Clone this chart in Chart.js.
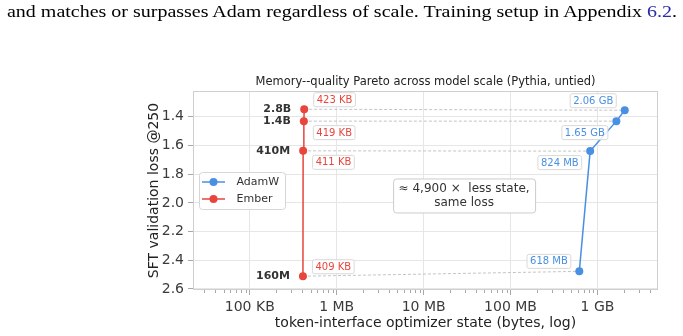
<!DOCTYPE html>
<html lang="en">
<head>
<meta charset="UTF-8">
<title>Memory--quality Pareto</title>
<script src="https://cdn.jsdelivr.net/npm/chart.js"></script>
<style>
  body { margin: 0; background: #fff; }
  .wrap { position: relative; width: 683px; height: 336px; overflow: hidden; }
  canvas { position: absolute; left: 0; top: 0; }
  .caption {
    position: absolute; left: 7px; top: 3.5px;
    font-family: 'Liberation Serif', serif; font-size: 16.5px; line-height: 16.5px;
    white-space: nowrap; color: #000; transform-origin: 0 0;
  }
  .caption span { color: #2a2aa8; }
</style>
</head>
<body>
<div class="wrap">
  <canvas id="chart" width="683" height="336"></canvas>
  <div class="caption" id="caption">and matches or surpasses Adam regardless of scale. Training setup in Appendix <span>6.2</span>.</div>
</div>
<script>
// data, ordered 160M -> 2.8B
const models = ['160M', '410M', '1.4B', '2.8B'];
const emberBytes = [409e3, 411e3, 419e3, 423e3];
const emberLoss = [2.511, 1.637, 1.430, 1.347];
const adamBytes = [618e6, 824e6, 1.65e9, 2.06e9];
const adamLoss = [2.477, 1.639, 1.430, 1.354];
const emberTags = ['409 KB', '411 KB', '419 KB', '423 KB'];
const adamTags = ['618 MB', '824 MB', '1.65 GB', '2.06 GB'];
const xTickValues = [1e5, 1e6, 1e7, 1e8, 1e9];
const xTickText = ['100 KB', '1 MB', '10 MB', '100 MB', '1 GB'];
const yTicks = [1.4, 1.6, 1.8, 2.0, 2.2, 2.4, 2.6];

const BLUE = '#4a90e2';
const RED = '#e8453c';
const FONT = '"DejaVu Sans", sans-serif';
const X_MIN = 22230, X_MAX = 4.97e9;

// tag placement (pixels above/below the point)
const emberTagDy = [-10, 11, 11, -10];
const adamTagDy = [-10.5, 11, 11, -10];

// stretch the caption line to the page width like the scanned text
const cap = document.getElementById('caption');
cap.style.transform = 'scaleX(' + (670 / cap.getBoundingClientRect().width) + ')';

function isDecade(v) {
    const l = Math.log10(v);
    return Math.abs(l - Math.round(l)) < 1e-9;
}

// major decades plus 2..9 minors inside the range
const xTickList = [];
for (let e = 4; e <= 9; e++) {
    for (let k = 1; k <= 9; k++) {
        const v = k * Math.pow(10, e);
        if (v >= X_MIN && v <= X_MAX) xTickList.push(v);
    }
}

function roundRect(ctx, x, y, w, h, r) {
    ctx.beginPath();
    ctx.moveTo(x + r, y);
    ctx.arcTo(x + w, y, x + w, y + h, r);
    ctx.arcTo(x + w, y + h, x, y + h, r);
    ctx.arcTo(x, y + h, x, y, r);
    ctx.arcTo(x, y, x + w, y, r);
    ctx.closePath();
}

function drawTag(ctx, text, x, cy, side, color) {
    ctx.font = '10px ' + FONT;
    const w = ctx.measureText(text).width + 6;
    const h = 14;
    const left = side === 'right' ? x : x - w;
    roundRect(ctx, left + 0.5, cy - h / 2 + 0.5, w, h, 2);
    ctx.fillStyle = 'rgba(255,255,255,0.85)';
    ctx.fill();
    ctx.strokeStyle = '#d9d9d9';
    ctx.lineWidth = 1;
    ctx.stroke();
    ctx.fillStyle = color;
    ctx.textAlign = 'left';
    ctx.textBaseline = 'middle';
    ctx.fillText(text, left + 3.5, cy + 1);
}

const overlay = {
    id: 'overlay',
    afterDraw(chart) {
        const { ctx, chartArea: ca, scales: { x, y } } = chart;
        ctx.save();

        // frame
        ctx.strokeStyle = '#cfcfcf';
        ctx.lineWidth = 1;
        ctx.strokeRect(ca.left + 0.5, ca.top + 0.5, ca.width - 1, ca.height - 1);

        // minor ticks on x
        ctx.strokeStyle = '#a8a8a8';
        xTickList.filter(v => !isDecade(v)).forEach(v => {
            const px = Math.round(x.getPixelForValue(v)) + 0.5;
            ctx.beginPath();
            ctx.moveTo(px, ca.bottom);
            ctx.lineTo(px, ca.bottom + 3);
            ctx.stroke();
        });

        // title
        ctx.fillStyle = '#222';
        ctx.font = '11.5px ' + FONT;
        ctx.textAlign = 'center';
        ctx.textBaseline = 'middle';
        ctx.fillText('Memory--quality Pareto across model scale (Pythia, untied)', (ca.left + ca.right) / 2, ca.top - 9);

        // size tags and model names
        models.forEach((m, i) => {
            const ex = x.getPixelForValue(emberBytes[i]);
            const ey = y.getPixelForValue(emberLoss[i]);
            drawTag(ctx, emberTags[i], ex + 9, ey + emberTagDy[i], 'right', RED);
            const ax = x.getPixelForValue(adamBytes[i]);
            const ay = y.getPixelForValue(adamLoss[i]);
            drawTag(ctx, adamTags[i], ax - 9, ay + adamTagDy[i], 'left', BLUE);

            ctx.fillStyle = '#333';
            ctx.font = 'bold 11px ' + FONT;
            ctx.textAlign = 'right';
            ctx.textBaseline = 'middle';
            ctx.fillText(m, ex - 13, ey);
        });

        // legend, center left
        const lw = 86, lh = 37;
        const lx = ca.left + 6, ly = (ca.top + ca.bottom) / 2 - lh / 2;
        roundRect(ctx, lx + 0.5, ly + 0.5, lw, lh, 3);
        ctx.fillStyle = 'rgba(255,255,255,0.9)';
        ctx.fill();
        ctx.strokeStyle = '#d6d6d6';
        ctx.stroke();
        chart.data.datasets.slice(0, 2).forEach((ds, i) => {
            const cy = ly + 10 + i * 17;
            ctx.strokeStyle = ds.borderColor;
            ctx.lineWidth = 1.5;
            ctx.beginPath();
            ctx.moveTo(lx + 3, cy);
            ctx.lineTo(lx + 26, cy);
            ctx.stroke();
            ctx.fillStyle = ds.borderColor;
            ctx.beginPath();
            ctx.arc(lx + 14.5, cy, 4, 0, Math.PI * 2);
            ctx.fill();
            ctx.fillStyle = '#333';
            ctx.font = '11px ' + FONT;
            ctx.textAlign = 'left';
            ctx.textBaseline = 'middle';
            ctx.fillText(ds.label, lx + 37.5, cy + 0.5);
        });

        // annotation
        const bx = ca.left + ca.width * 0.583, by = ca.top + ca.height * 0.525;
        const bw = 142, bh = 34;
        roundRect(ctx, bx - bw / 2 + 0.5, by - bh / 2 + 0.5, bw, bh, 3);
        ctx.fillStyle = '#fff';
        ctx.fill();
        ctx.strokeStyle = '#cccccc';
        ctx.lineWidth = 1;
        ctx.stroke();
        ctx.fillStyle = '#333';
        ctx.font = '12px ' + FONT;
        ctx.textAlign = 'center';
        ctx.fillText('\u2248 4,900 \u00d7  less state,', bx, by - 7);
        ctx.fillText('same loss', bx, by + 7.5);

        ctx.restore();
    }
};

const pairSets = models.map((m, i) => ({
    label: 'pair ' + m,
    data: [{ x: emberBytes[i], y: emberLoss[i] }, { x: adamBytes[i], y: adamLoss[i] }],
    showLine: true,
    borderColor: '#bdbdbd',
    borderDash: [3, 2],
    borderWidth: 0.9,
    pointRadius: 0,
    order: 5
}));

new Chart(document.getElementById('chart'), {
    type: 'scatter',
    data: {
        datasets: [
            {
                label: 'AdamW',
                data: adamBytes.map((b, i) => ({ x: b, y: adamLoss[i] })),
                showLine: true,
                borderColor: BLUE,
                backgroundColor: BLUE,
                borderWidth: 1.5,
                pointRadius: 4,
                pointBorderWidth: 0,
                order: 0
            },
            {
                label: 'Ember',
                data: emberBytes.map((b, i) => ({ x: b, y: emberLoss[i] })),
                showLine: true,
                borderColor: RED,
                backgroundColor: RED,
                borderWidth: 1.5,
                pointRadius: 4,
                pointBorderWidth: 0,
                order: 0
            },
            ...pairSets
        ]
    },
    options: {
        responsive: false,
        animation: false,
        events: [],
        layout: { padding: { top: 91, right: 25, left: 0, bottom: 0 } },
        plugins: {
            legend: { display: false },
            tooltip: { enabled: false },
            title: { display: false }
        },
        scales: {
            x: {
                type: 'logarithmic',
                min: X_MIN,
                max: X_MAX,
                afterBuildTicks: s => { s.ticks = xTickList.map(v => ({ value: v })); },
                afterFit: s => { s.height = 46; },
                ticks: {
                    autoSkip: false,
                    maxRotation: 0,
                    padding: 3.5,
                    color: '#3b3b3b',
                    font: { family: FONT, size: 14 },
                    callback: v => {
                        const i = xTickValues.findIndex(t => Math.abs(t - v) / t < 1e-9);
                        return i >= 0 ? xTickText[i] : '';
                    }
                },
                grid: {
                    color: c => (c.tick && isDecade(c.tick.value)) ? '#e6e6e6' : 'rgba(0,0,0,0)',
                    tickColor: c => (c.tick && isDecade(c.tick.value)) ? '#a8a8a8' : 'rgba(0,0,0,0)',
                    tickLength: 5,
                    lineWidth: 1
                },
                border: { display: false },
                title: {
                    display: true,
                    text: 'token-interface optimizer state (bytes, log)',
                    color: '#222',
                    font: { family: FONT, size: 14 },
                    padding: { top: 0, bottom: 4 }
                }
            },
            y: {
                type: 'linear',
                reverse: true,
                min: 1.22,
                max: 2.607,
                afterBuildTicks: s => { s.ticks = yTicks.map(v => ({ value: v })); },
                afterFit: s => { s.width = 193; },
                ticks: {
                    padding: 4,
                    color: '#3b3b3b',
                    font: { family: FONT, size: 14 },
                    callback: v => v.toFixed(1)
                },
                grid: {
                    color: '#e6e6e6',
                    tickColor: '#a8a8a8',
                    tickLength: 5,
                    lineWidth: 1
                },
                border: { display: false },
                title: {
                    display: true,
                    text: 'SFT validation loss @250',
                    color: '#222',
                    font: { family: FONT, size: 14 },
                    padding: { top: 146, bottom: 0 }
                }
            }
        }
    },
    plugins: [overlay]
});
</script>
</body>
</html>
